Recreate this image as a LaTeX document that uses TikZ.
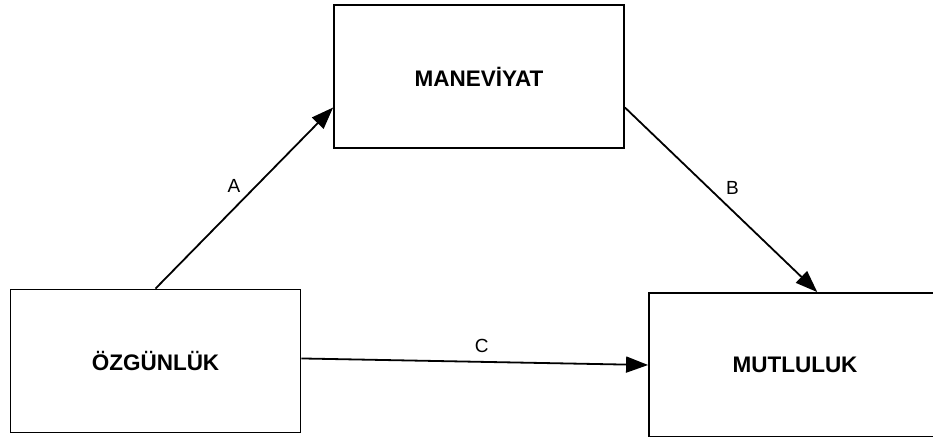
\documentclass[tikz,border=0pt]{standalone}
\usepackage{fontspec}
\setmainfont{Liberation Sans}
\usetikzlibrary{arrows.meta}

\tikzset{
    varbox/.style={draw, line width=1.8pt, minimum width=290pt, minimum height=143pt, inner sep=0pt, font=\fontsize{22.5}{27}\selectfont\bfseries},
    path/.style={line width=1.8pt, -{Triangle[length=22pt, width=16pt]}},
    pathlbl/.style={font=\fontsize{19}{23}\selectfont, inner sep=4pt}
}

\begin{document}
\begin{tikzpicture}[x=1pt, y=-1pt]
    \useasboundingbox (0, 0) rectangle (933, 436);
    \clip (0, 0) rectangle (933, 436);
    
    \node[varbox] (oz) at (155.5, 361) {ÖZGÜNLÜK};
    \node[varbox] (man) at (479, 76.5) {MANEVİYAT};
    \node[varbox, minimum width=292pt, minimum height=144pt] (mut) at (795, 365) {MUTLULUK};
    
    \draw[path] (oz.north) -- (man.192) node[pathlbl, pos=0.5, above left, xshift=1pt, yshift=1pt] (lblA) {A};
    \draw[path] (man.-12) -- (mut.73) node[pathlbl, pos=0.5, above right] (lblB) {B};
    \draw[path] (oz.1) -- (mut.west) node[pathlbl, pos=0.52, above, yshift=4pt] (lblC) {C};
    
\end{tikzpicture}
\end{document}
